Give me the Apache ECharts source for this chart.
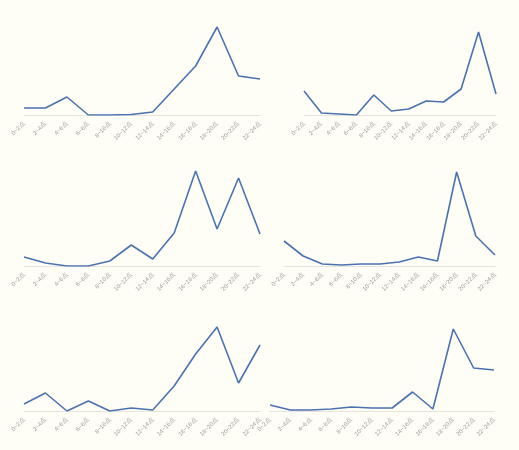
<!DOCTYPE html>
<html>
<head>
<meta charset="utf-8">
<script src="https://cdn.jsdelivr.net/npm/echarts@6/dist/echarts.min.js"></script>
<style>
  html, body { margin: 0; padding: 0; background: #fffef6; }
  #chart { width: 519px; height: 450px; }
</style>
</head>
<body>
<div id="chart"></div>
<script>
// 时段
const hours = ['0~2点', '2~4点', '4~6点', '6~8点', '8~10点', '10~12点',
               '12~14点', '14~16点', '16~18点', '18~20点', '20~22点', '22~24点'];

// 六个子图数值
const values1 = [7, 7, 18, 0, 0, 0.5, 3, 26, 49, 88, 39, 36];
const values2 = [24, 2, 1, 0, 20, 4, 6, 14, 13, 26, 83, 21];
const values3 = [9, 3, 0, 0, 5, 21, 7, 33, 95, 37, 88, 32];
const values4 = [25, 10, 2, 1, 2, 2, 4, 9, 5, 94, 30, 11];
const values5 = [7, 18, 0, 10, 0, 3, 1, 25, 57, 84, 28, 66];
const values6 = [6, 1, 1, 2, 4, 3, 3, 19, 2, 82, 43, 41];

const allValues = [values1, values2, values3, values4, values5, values6];

// 子图位置 [left, right, top, height]
const layout = [
  [24, 519 - 260, 15, 100],
  [304, 519 - 496, 15, 100],
  [24, 519 - 260, 166, 100],
  [284, 519 - 495, 166, 100],
  [24, 519 - 260, 311, 100],
  [270, 519 - 494, 311, 100]
];

const LINE_COLOR = '#4a72b0';

const grids = [], xAxes = [], yAxes = [], series = [];
layout.forEach((g, i) => {
  grids.push({ left: g[0], right: g[1], top: g[2], height: g[3] });
  xAxes.push({
    type: 'category', gridIndex: i, data: hours, boundaryGap: false,
    axisLine: { lineStyle: { color: '#e6e4dc', width: 1 } },
    axisTick: { show: false },
    axisLabel: { rotate: 45, fontSize: 6, color: '#999', margin: 8, interval: 0 }
  });
  yAxes.push({
    type: 'value', gridIndex: i, min: 0, max: 100, show: false,
    splitLine: { show: false }
  });
  series.push({
    type: 'line', xAxisIndex: i, yAxisIndex: i, data: allValues[i],
    symbol: 'none', lineStyle: { color: LINE_COLOR, width: 1.6 },
    itemStyle: { color: LINE_COLOR }
  });
});

const chart = echarts.init(document.getElementById('chart'));
chart.setOption({
  backgroundColor: '#fffef6',
  animation: false,
  grid: grids,
  xAxis: xAxes,
  yAxis: yAxes,
  series: series
});
</script>
</body>
</html>
